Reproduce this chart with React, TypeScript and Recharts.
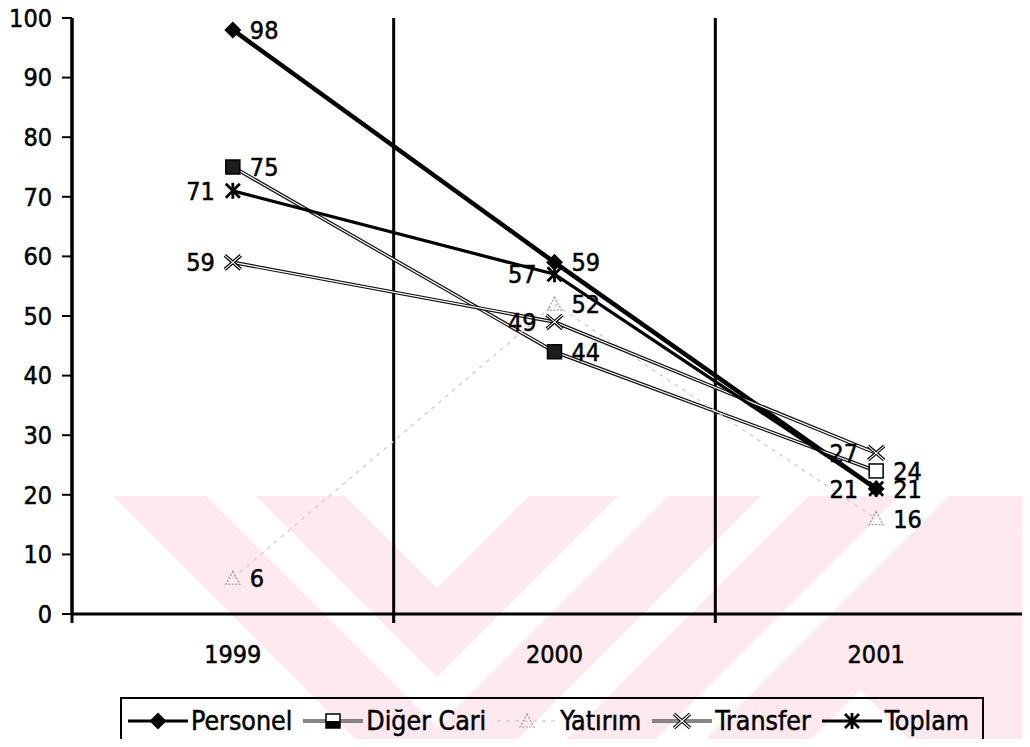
import React from 'react';
import { LineChart, Line, XAxis, YAxis, ReferenceLine, LabelList } from 'recharts';

const years = ['1999', '2000', '2001'];
const personel = [98, 59, 21];
const digerCari = [75, 44, 24];
const yatirim = [6, 52, 16];
const transfer = [59, 49, 27];
const toplam = [71, 57, 21];

const yTicks = [0, 10, 20, 30, 40, 50, 60, 70, 80, 90, 100];
// each year sits in the middle of its own unit-wide band on the x axis
const yearPos = years.map((_, i) => i + 0.5);
// band edges: 0 = y axis, 1 and 2 = separators, 3 = right end
const bandEdges = [0, 1, 2, 3];

const FONT = "'DejaVu Sans Condensed', 'DejaVu Sans', sans-serif";
const FONT_SIZE = 25;

type MarkerKind = 'diamond' | 'square' | 'triangle' | 'cross' | 'star';

interface SeriesDef {
  key: string;
  name: string;
  values: number[];
  marker: MarkerKind;
  stroke: string;
  width: number;
  inner?: number; // white core drawn on top -> outlined look
  dash?: string;
  labelSide: 'left' | 'right';
  lastHollow?: boolean;
}

const series: SeriesDef[] = [
  { key: 'personel', name: 'Personel', values: personel, marker: 'diamond', stroke: '#000', width: 4.5, labelSide: 'right' },
  { key: 'digerCari', name: 'Diğer Cari', values: digerCari, marker: 'square', stroke: '#111', width: 3.6, inner: 1.2, labelSide: 'right', lastHollow: true },
  { key: 'yatirim', name: 'Yatırım', values: yatirim, marker: 'triangle', stroke: '#d4d4d4', width: 1.5, dash: '4 5', labelSide: 'right' },
  { key: 'transfer', name: 'Transfer', values: transfer, marker: 'cross', stroke: '#111', width: 3.6, inner: 1.2, labelSide: 'left' },
  { key: 'toplam', name: 'Toplam', values: toplam, marker: 'star', stroke: '#000', width: 3.2, labelSide: 'left' },
];

const data = years.map((year, i) => {
  const row: Record<string, string | number> = { year, pos: yearPos[i] };
  series.forEach((s) => {
    row[s.key] = s.values[i];
  });
  return row;
});

// pale striped watermark behind the chart
const WM_TOP = 496;
const WM_PINK = '#fde9ee';
const chevronApex = 437;
const chevronBands: [number, number][] = [
  [588, 677],
  [727, 820],
];
// extra "/" stripes on the right, as ranges of x + y
const slashBands: [number, number][] = [
  [1305, 1395],
  [1445, 1550],
];

const pts = (p: number[][]) => p.map((q) => q.join(',')).join(' ');

const chevron = (a: number, c1: number, c2: number) => {
  const t = WM_TOP;
  return pts([
    [a - (c2 - t), t],
    [a - (c1 - t), t],
    [a, c1],
    [a + (c1 - t), t],
    [a + (c2 - t), t],
    [a, c2],
  ]);
};

const slash = (s1: number, s2: number) => {
  const t = WM_TOP;
  const b = 800;
  return pts([
    [s1 - t, t],
    [s2 - t, t],
    [s2 - b, b],
    [s1 - b, b],
  ]);
};

// wedge in the lower right corner
const wedge = pts([
  [860, 690],
  [1100, 450],
  [1100, 930],
]);

const Marker = ({ kind, cx, cy, hollow, half }: { kind: MarkerKind; cx: number; cy: number; hollow?: boolean; half?: boolean }) => {
  switch (kind) {
    case 'diamond':
      return <polygon points={`${cx},${cy - 8.5} ${cx + 8.5},${cy} ${cx},${cy + 8.5} ${cx - 8.5},${cy}`} fill="#000" />;
    case 'square':
      return (
        <g>
          <rect x={cx - 7} y={cy - 7} width={14} height={14} fill={hollow || half ? '#fff' : '#1c1c1c'} stroke="#000" strokeWidth={1.5} />
          {half && <rect x={cx - 7} y={cy} width={14} height={7} fill="#000" />}
        </g>
      );
    case 'triangle':
      return (
        <polygon
          points={`${cx},${cy - 7} ${cx + 7},${cy + 6} ${cx - 7},${cy + 6}`}
          fill="none"
          stroke="#9a9a9a"
          strokeWidth={1.2}
          strokeDasharray="2 1.5"
        />
      );
    case 'cross': {
      const d = `M${cx - 8},${cy - 7} L${cx + 8},${cy + 7} M${cx - 8},${cy + 7} L${cx + 8},${cy - 7}`;
      return (
        <g>
          <path d={d} stroke="#000" strokeWidth={3.4} />
          <path d={d} stroke="#fff" strokeWidth={1.1} />
        </g>
      );
    }
    case 'star': {
      const d = `M${cx - 7},${cy - 7} L${cx + 7},${cy + 7} M${cx - 7},${cy + 7} L${cx + 7},${cy - 7} M${cx},${cy - 8} L${cx},${cy + 8}`;
      return <path d={d} stroke="#000" strokeWidth={2.8} />;
    }
    default:
      return null;
  }
};

const LegendIcon = ({ s }: { s: SeriesDef }) => (
  <svg width={60} height={22} style={{ display: 'block' }}>
    <line x1={0} y1={11} x2={60} y2={11} stroke={s.stroke} strokeWidth={Math.min(s.width, 3.2)} strokeDasharray={s.dash} />
    {s.inner && <line x1={0} y1={11} x2={60} y2={11} stroke="#fff" strokeWidth={1} />}
    <Marker kind={s.marker} cx={30} cy={11} half={s.marker === 'square'} />
  </svg>
);

const ChartLegend = () => (
  <div
    style={{
      position: 'absolute',
      left: 120,
      top: 697,
      width: 864,
      height: 48,
      boxSizing: 'border-box',
      border: '2.5px solid #000',
      display: 'flex',
      alignItems: 'center',
      paddingLeft: 6,
      fontFamily: FONT,
      fontSize: 26.5,
      lineHeight: 1,
      color: '#000',
      WebkitTextStroke: '0.5px #000',
    }}
  >
    {series.map((s) => (
      <div key={s.key} style={{ display: 'flex', alignItems: 'center', marginRight: 11 }}>
        <LegendIcon s={s} />
        <span style={{ marginLeft: 3, whiteSpace: 'nowrap' }}>{s.name}</span>
      </div>
    ))}
  </div>
);

const labelStyle = { fill: '#000', stroke: '#000', strokeWidth: 0.5, fontSize: FONT_SIZE, fontFamily: FONT };

const renderSeries = (s: SeriesDef) => {
  const dot = (p: any) => (
    <Marker
      key={`${s.key}-dot-${p.index}`}
      kind={s.marker}
      cx={p.cx}
      cy={p.cy}
      hollow={s.lastHollow && p.index === s.values.length - 1}
    />
  );
  const labels = (
    <LabelList
      dataKey={s.key}
      position={s.labelSide}
      offset={s.labelSide === 'right' ? 17 : 18}
      {...labelStyle}
    />
  );
  if (s.inner) {
    return [
      <Line
        key={`${s.key}-base`}
        dataKey={s.key}
        stroke={s.stroke}
        strokeWidth={s.width}
        dot={false}
        activeDot={false}
        isAnimationActive={false}
        legendType="none"
      />,
      <Line
        key={`${s.key}-core`}
        dataKey={s.key}
        name={s.name}
        stroke="#fff"
        strokeWidth={s.inner}
        dot={dot}
        activeDot={false}
        isAnimationActive={false}
      >
        {labels}
      </Line>,
    ];
  }
  return (
    <Line
      key={s.key}
      dataKey={s.key}
      name={s.name}
      stroke={s.stroke}
      strokeWidth={s.width}
      strokeDasharray={s.dash}
      dot={dot}
      activeDot={false}
      isAnimationActive={false}
    >
      {labels}
    </Line>
  );
};

export default function App() {
  return (
    <div style={{ position: 'relative', width: 1030, height: 747, margin: -8, overflow: 'hidden', background: '#fff' }}>
      <svg width={1030} height={747} style={{ position: 'absolute', left: 0, top: 0 }}>
        {chevronBands.map(([c1, c2]) => (
          <polygon key={`chev-${c1}`} points={chevron(chevronApex, c1, c2)} fill={WM_PINK} />
        ))}
        {slashBands.map(([s1, s2]) => (
          <polygon key={`slash-${s1}`} points={slash(s1, s2)} fill={WM_PINK} />
        ))}
        <polygon points={wedge} fill={WM_PINK} />
      </svg>
      <div style={{ position: 'absolute', left: 0, top: 0 }}>
        <LineChart width={1040} height={747} data={data} margin={{ top: 18, right: 3, bottom: 103, left: 0 }}>
          <XAxis
            dataKey="pos"
            type="number"
            domain={[0, 3]}
            allowDataOverflow
            ticks={yearPos}
            interval={0}
            tickFormatter={(v: number) => years[Math.floor(v)]}
            height={30}
            axisLine={{ stroke: '#000', strokeWidth: 3 }}
            tickLine={false}
            tickSize={0}
            tickMargin={31}
            tick={labelStyle}
          />
          <YAxis
            width={72}
            domain={[0, 100]}
            ticks={yTicks}
            interval={0}
            tickSize={10}
            tickMargin={10}
            axisLine={{ stroke: '#000', strokeWidth: 3 }}
            tickLine={{ stroke: '#000', strokeWidth: 2 }}
            tick={labelStyle}
          />
          {bandEdges.map((e) => (
            <ReferenceLine
              key={`edge-${e}`}
              segment={[
                { x: e, y: -1.5 },
                { x: e, y: 100 },
              ]}
              stroke="#000"
              strokeWidth={3}
              ifOverflow="visible"
            />
          ))}
          {series.map(renderSeries)}
        </LineChart>
      </div>
      <ChartLegend />
    </div>
  );
}
